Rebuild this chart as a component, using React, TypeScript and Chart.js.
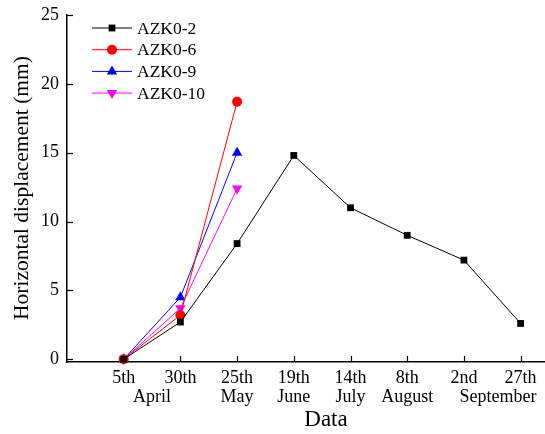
import React, { useEffect, useRef } from 'react';
import { Chart, registerables } from 'chart.js';
import { drawPoint } from 'chart.js/helpers';

Chart.register(...registerables);

const dayLabels = ['5th', '30th', '25th', '19th', '14th', '8th', '2nd', '27th'];
const monthLabels = ['April', 'May', 'June', 'July', 'August', 'September'];
const monthAt = [1.5, 3, 4, 5, 6, 7.6];
const yTicks = [0, 5, 10, 15, 20, 25];

const seriesNames = ['AZK0-2', 'AZK0-6', 'AZK0-9', 'AZK0-10'];
const azk0_2 = [0, 2.7, 8.4, 14.8, 11.0, 9.0, 7.2, 2.6];
const azk0_6 = [0, 3.2, 18.7];
const azk0_9 = [0, 4.5, 15.0];
const azk0_10 = [0, 3.7, 12.4];

const FONT = '"Liberation Serif", "Times New Roman", serif';

const styles = [
  { color: '#000000', pointStyle: 'rect', radius: 4.8, rotation: 0 },
  { color: '#ff0000', pointStyle: 'circle', radius: 5, rotation: 0 },
  { color: '#0000ff', pointStyle: 'triangle', radius: 6, rotation: 0 },
  { color: '#ff00ff', pointStyle: 'triangle', radius: 6, rotation: 180 },
];

const toPoints = (arr: number[]) => arr.map((v, i) => ({ x: i + 1, y: v }));

const decorPlugin = {
  id: 'decor',
  afterDraw(chart: any) {
    const ctx = chart.ctx;
    const xs = chart.scales.x;
    const ys = chart.scales.y;
    const area = chart.chartArea;
    ctx.save();
    ctx.strokeStyle = '#000';
    ctx.lineWidth = 1.2;
    // inward ticks
    yTicks.forEach((v) => {
      const y = Math.round(ys.getPixelForValue(v)) + 0.5;
      ctx.beginPath();
      ctx.moveTo(area.left, y);
      ctx.lineTo(area.left + 6, y);
      ctx.stroke();
    });
    dayLabels.forEach((_, i) => {
      const x = Math.round(xs.getPixelForValue(i + 1)) + 0.5;
      ctx.beginPath();
      ctx.moveTo(x, area.bottom);
      ctx.lineTo(x, area.bottom - 6);
      ctx.stroke();
    });
    // month labels
    ctx.fillStyle = '#000';
    ctx.font = `18px ${FONT}`;
    ctx.textAlign = 'center';
    ctx.textBaseline = 'middle';
    monthLabels.forEach((m, i) => {
      ctx.fillText(m, xs.getPixelForValue(monthAt[i]), area.bottom + 35);
    });
    // axis titles
    ctx.font = `23px ${FONT}`;
    ctx.fillText('Data', 326, area.bottom + 58);
    ctx.save();
    ctx.font = `21.5px ${FONT}`;
    ctx.translate(22, 188);
    ctx.rotate(-Math.PI / 2);
    ctx.fillText('Horizontal displacement (mm)', 0, 0);
    ctx.restore();
    // legend
    ctx.font = `17.5px ${FONT}`;
    ctx.textAlign = 'left';
    seriesNames.forEach((name, i) => {
      const st = styles[i];
      const y = 28 + i * 21.7;
      ctx.strokeStyle = st.color;
      ctx.lineWidth = 1;
      ctx.beginPath();
      ctx.moveTo(92, y);
      ctx.lineTo(132, y);
      ctx.stroke();
      ctx.fillStyle = st.color;
      drawPoint(ctx, { pointStyle: st.pointStyle as any, radius: st.radius, rotation: st.rotation, borderWidth: 0 } as any, 112, y);
      ctx.fillStyle = '#000';
      ctx.fillText(name, 137, y + 1);
    });
    ctx.restore();
  },
};

export default function App() {
  const ref = useRef<HTMLCanvasElement | null>(null);
  useEffect(() => {
    document.body.style.margin = '0';
    const seriesData = [azk0_2, azk0_6, azk0_9, azk0_10];
    const chart = new Chart(ref.current as HTMLCanvasElement, {
      type: 'line',
      data: {
        datasets: seriesData.map((d, i) => ({
          label: seriesNames[i],
          data: toPoints(d),
          borderColor: styles[i].color,
          backgroundColor: styles[i].color,
          borderWidth: 1,
          pointStyle: styles[i].pointStyle as any,
          pointRadius: styles[i].radius,
          pointRotation: styles[i].rotation,
          pointBorderWidth: 0,
          pointBackgroundColor: styles[i].color,
          tension: 0,
          clip: false as any,
        })),
      },
      options: {
        animation: false,
        responsive: false,
        maintainAspectRatio: false,
        layout: { autoPadding: false, padding: { top: 15, right: 0, left: 0, bottom: 0 } },
        plugins: { legend: { display: false }, tooltip: { enabled: false } },
        scales: {
          x: {
            type: 'linear',
            min: 0,
            max: 8.43,
            afterBuildTicks: (s: any) => {
              s.ticks = dayLabels.map((_, i) => ({ value: i + 1 }));
            },
            afterFit: (s: any) => {
              s.height = 72;
              s.paddingLeft = 0;
              s.paddingRight = 0;
            },
            grid: { display: false, drawTicks: false },
            border: { display: true, color: '#000', width: 1.5 },
            ticks: {
              color: '#000',
              font: { family: FONT, size: 18 },
              padding: 5,
              maxRotation: 0,
              autoSkip: false,
              callback: (v: any) => dayLabels[Math.round(v) - 1] ?? '',
            },
          },
          y: {
            min: -0.2,
            max: 25,
            afterBuildTicks: (s: any) => {
              s.ticks = yTicks.map((v) => ({ value: v }));
            },
            afterFit: (s: any) => {
              s.width = 67;
              s.paddingTop = 0;
              s.paddingBottom = 0;
            },
            grid: { display: false, drawTicks: false },
            border: { display: true, color: '#000', width: 1.5 },
            ticks: {
              color: '#000',
              font: { family: FONT, size: 18 },
              padding: 8,
            },
          },
        },
      },
      plugins: [decorPlugin],
    });
    return () => chart.destroy();
  }, []);
  return (
    <div style={{ position: 'absolute', left: 0, top: 0, width: 545, height: 434 }}>
      <canvas ref={ref} width={545} height={434} style={{ width: 545, height: 434 }} />
    </div>
  );
}
